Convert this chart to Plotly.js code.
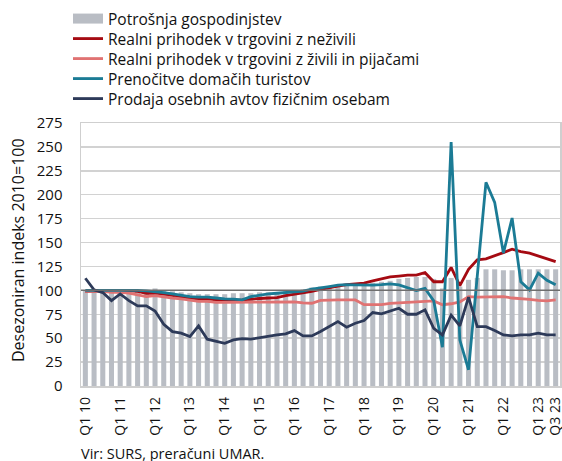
<!DOCTYPE html>
<html>
<head>
<meta charset="utf-8">
<script src="https://cdn.plot.ly/plotly-3.0.1.min.js"></script>
<style>
  html, body { margin: 0; padding: 0; background: #fff; }
  #chart { width: 562px; height: 461px; }
</style>
</head>
<body>
<div id="chart"></div>
<script>
var quarters = [
  "Q1 10","Q2 10","Q3 10","Q4 10","Q1 11","Q2 11","Q3 11","Q4 11",
  "Q1 12","Q2 12","Q3 12","Q4 12","Q1 13","Q2 13","Q3 13","Q4 13",
  "Q1 14","Q2 14","Q3 14","Q4 14","Q1 15","Q2 15","Q3 15","Q4 15",
  "Q1 16","Q2 16","Q3 16","Q4 16","Q1 17","Q2 17","Q3 17","Q4 17",
  "Q1 18","Q2 18","Q3 18","Q4 18","Q1 19","Q2 19","Q3 19","Q4 19",
  "Q1 20","Q2 20","Q3 20","Q4 20","Q1 21","Q2 21","Q3 21","Q4 21",
  "Q1 22","Q2 22","Q3 22","Q4 22","Q1 23","Q2 23","Q3 23"
];

var tickLabels = ["Q1 10","Q1 11","Q1 12","Q1 13","Q1 14","Q1 15","Q1 16",
  "Q1 17","Q1 18","Q1 19","Q1 20","Q1 21","Q1 22","Q1 23","Q3 23"];

var potrosnja = [
  100,100,100,100,100,101,100,100,
  102,100,99,98,97,96,96,96,
  96,97,97,97,98,98,98,99,
  100,101,103,104,104,105,105,106,
  107,108,109,110,112,113,114,114,
  112,102,113,104,111,113,122,122,
  121,121,122,122,122,122,122
];

var neZivili = [
  99,99.5,99.5,99.5,100,99.5,99,97,
  97,96,94.5,93,92,91,91,90,
  89.5,89.5,90,91,91.5,92,92.5,94.5,
  96,97,99,101,103,104.5,106,107,
  107.5,110,112,114,115,116,116,118.5,
  109,109,124,105,122,132,133,136,
  139.5,143,140.5,139,136,133.5,130
];

var zivili = [
  99,99,99,98,98,97,95.5,93.5,
  94.5,93,92,91,90,88.5,88.5,87.5,
  87.5,87.5,88,88,88,88,88,88,
  88,87,86.5,89.5,90,90,90,90,
  85,85,85,86.5,87,88,88,89,
  89,85,86,88,93.5,93,93,93,
  93.5,92,91.5,90.5,89.5,89,90
];

var prenocitve = [
  100,100,100,100,100.5,100.5,100,99.5,
  98.8,97.7,96.3,95,93.5,93,93,92,
  91,90.8,90,93.5,95.3,96.3,97,97.7,
  98.4,99.1,101.2,102.3,104,105.4,106,105.8,
  105.5,105.5,106,106.8,105.8,103,99.8,102,
  89,40.5,255,48,17,115,213,192,
  139,175.6,109,100.5,118,110.5,105.8
];

var avti = [
  112.7,100.5,97.7,89.3,96.3,89.3,83.8,83.8,
  78.5,64.6,56.9,55.2,51.6,62.8,48.9,46.4,
  44.7,48.2,49.5,49,50.6,51.6,53.4,54.5,
  57.9,52.4,52.4,56.9,62.1,67.3,61.4,65.6,
  68.4,76.8,75.4,78.5,81.3,75,75,79.6,
  60.4,53.4,74,62.8,93,62,62,58,
  53.4,52.4,53.4,53.4,55.2,53.4,53.4
];

var seriesNames = [
  "Potrošnja gospodinjstev",
  "Realni prihodek v trgovini z neživili",
  "Realni prihodek v trgovini z živili in pijačami",
  "Prenočitve domačih turistov",
  "Prodaja osebnih avtov fizičnim osebam"
];

var yTitle = "Desezoniran indeks 2010=100";
var sourceNote = "Vir: SURS, preračuni UMAR.";

var FONT = "'Open Sans', sans-serif";
var TXT = "#111";
var barColor = "#b9bdc4";
var lineW = 2.8;

var traces = [
  {type: "bar", x: quarters, y: potrosnja, name: seriesNames[0],
   marker: {color: barColor}, showlegend: false},
  {type: "scatter", mode: "lines", x: [null], y: [null], name: seriesNames[0],
   line: {color: barColor, width: 10}, showlegend: true, legend: "legend"},
  {type: "scatter", mode: "lines", x: quarters, y: neZivili, name: seriesNames[1],
   line: {color: "#a50a12", width: lineW}, legend: "legend2"},
  {type: "scatter", mode: "lines", x: quarters, y: zivili, name: seriesNames[2],
   line: {color: "#e07272", width: lineW}, legend: "legend3"},
  {type: "scatter", mode: "lines", x: quarters, y: prenocitve, name: seriesNames[3],
   line: {color: "#1b7b95", width: lineW}, legend: "legend4"},
  {type: "scatter", mode: "lines", x: quarters, y: avti, name: seriesNames[4],
   line: {color: "#2d3a59", width: lineW}, legend: "legend5"}
];

function legendAt(centerY) {
  return {
    xref: "container", yref: "container",
    x: 68/562, y: 1 - centerY/461, xanchor: "left", yanchor: "middle",
    font: {family: FONT, size: 15.5, color: TXT},
    bgcolor: "rgba(0,0,0,0)", borderwidth: 0, itemwidth: 30
  };
}

var layout = {
  width: 562, height: 461,
  margin: {l: 81, r: 2, t: 123, b: 75, pad: 0, autoexpand: false},
  paper_bgcolor: "#fff", plot_bgcolor: "#fff",
  font: {family: FONT, size: 15, color: TXT},
  bargap: 0.42,
  showlegend: true,
  legend: legendAt(19),
  legend2: legendAt(39),
  legend3: legendAt(59),
  legend4: legendAt(79),
  legend5: legendAt(99),
  xaxis: {
    type: "category", categoryorder: "array", categoryarray: quarters,
    range: [-0.5, quarters.length - 0.5],
    tickmode: "array", tickvals: tickLabels, ticktext: tickLabels,
    tickangle: -90, ticks: "outside", ticklen: 4, tickcolor: "rgba(0,0,0,0)",
    showgrid: false,
    showline: true, mirror: true, linecolor: "#cfcfcf", linewidth: 1.5,
    tickfont: {family: FONT, size: 14, color: TXT},
    zeroline: false, fixedrange: true, automargin: false
  },
  yaxis: {
    range: [0, 275], dtick: 25, tick0: 0,
    showgrid: true, gridcolor: "#d2d2d2", gridwidth: 1.5,
    showline: true, mirror: true, linecolor: "#cfcfcf", linewidth: 1.5,
    zeroline: false, ticks: "outside", ticklen: 14, tickcolor: "rgba(0,0,0,0)",
    tickfont: {family: FONT, size: 15, color: TXT},
    automargin: false,
    fixedrange: true
  },
  shapes: [{
    type: "line", xref: "paper", yref: "y", x0: 0, x1: 1, y0: 100, y1: 100,
    line: {color: "#6e6e6e", width: 1.5}, layer: "above"
  }],
  annotations: [
    {
      text: yTitle, textangle: -90, xref: "paper", yref: "paper",
      x: (18 - 81)/479, y: (386 - 250)/263, xanchor: "center", yanchor: "middle",
      showarrow: false, font: {family: FONT, size: 16, color: TXT}
    },
    {
      text: sourceNote, xref: "paper", yref: "paper",
      x: -2/479, y: (386 - 453)/263, xanchor: "left", yanchor: "middle",
      showarrow: false, font: {family: FONT, size: 14.5, color: TXT}
    }
  ]
};

Plotly.newPlot("chart", traces, layout, {displayModeBar: false, staticPlot: true});
</script>
</body>
</html>
